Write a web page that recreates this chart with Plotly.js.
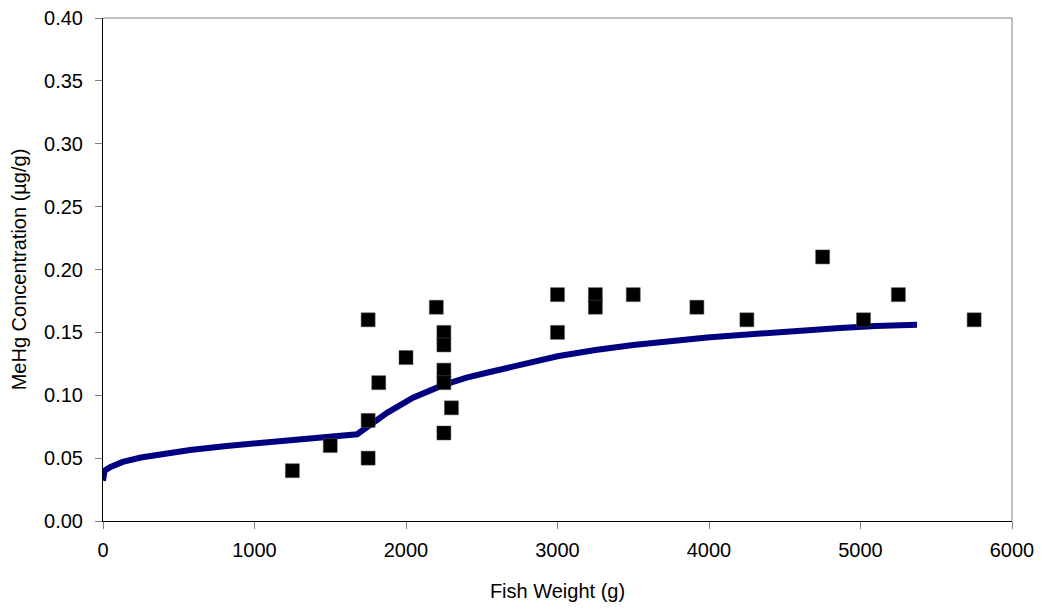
<!DOCTYPE html>
<html>
<head>
<meta charset="utf-8">
<script src="https://cdn.plot.ly/plotly-3.0.1.min.js"></script>
<style>html,body{margin:0;padding:0;background:#fff;}#chart{width:1042px;height:609px;}</style>
</head>
<body>
<div id="chart"></div>
<script>
// Observed fish data
var obsWeight = [1250, 1500, 1750, 1750, 1750, 1820, 2000, 2200, 2250, 2250, 2250, 2250, 2250, 2300,
                 3000, 3000, 3250, 3250, 3500, 3920, 4250, 4750, 5020, 5250, 5750];
var obsConc   = [0.04, 0.06, 0.05, 0.08, 0.16, 0.11, 0.13, 0.17, 0.15, 0.14, 0.12, 0.11, 0.07, 0.09,
                 0.18, 0.15, 0.18, 0.17, 0.18, 0.17, 0.16, 0.21, 0.16, 0.18, 0.16];
// Model curve
var modelWeight = [0, 1, 10, 50, 130, 250, 400, 575, 800, 1000, 1200, 1500, 1677, 1875, 2046,
                   2244, 2400, 2554, 2818, 3000, 3250, 3500, 3987, 4400, 4865, 5100, 5373];
var modelConc   = [0.032, 0.037, 0.040, 0.043, 0.047, 0.0505, 0.0535, 0.0565, 0.0595, 0.0615, 0.0635, 0.0665, 0.069, 0.086, 0.098,
                   0.108, 0.114, 0.1185, 0.1264, 0.131, 0.136, 0.140, 0.146, 0.150, 0.1535, 0.155, 0.156];
var xTicks = [0, 1000, 2000, 3000, 4000, 5000, 6000];
var yTicks = [0, 0.05, 0.10, 0.15, 0.20, 0.25, 0.30, 0.35, 0.40];

var font = 'Liberation Sans, Arial, sans-serif';
var traces = [
  {x: modelWeight, y: modelConc, mode: 'lines', type: 'scatter',
   line: {color: '#000080', width: 6}, hoverinfo: 'skip', showlegend: false, cliponaxis: false},
  {x: obsWeight, y: obsConc, mode: 'markers', type: 'scatter',
   marker: {symbol: 'square', size: 14, color: '#000000', line: {color: '#555555', width: 0.5}},
   showlegend: false, cliponaxis: false}
];
var layout = {
  width: 1042, height: 609,
  margin: {l: 103, r: 30, t: 18, b: 88},
  paper_bgcolor: '#ffffff', plot_bgcolor: '#ffffff',
  font: {family: font, size: 20, color: '#000'},
  xaxis: {range: [0, 6000], tickvals: xTicks, ticktext: xTicks.map(String),
          showgrid: false, zeroline: false, showline: true, linecolor: '#000', linewidth: 1,
          ticks: 'outside', ticklen: 7, tickcolor: '#808080', tickfont: {size: 20},
          ticklabelstandoff: 4,
          title: {text: 'Fish Weight (g)', font: {size: 20}, standoff: 23}},
  yaxis: {range: [0, 0.40], tickvals: yTicks, ticktext: yTicks.map(function(v){return v.toFixed(2);}),
          showgrid: false, zeroline: false, showline: true, linecolor: '#000', linewidth: 1,
          ticks: 'outside', ticklen: 7, tickcolor: '#808080', tickfont: {size: 20},
          ticklabelstandoff: 8,
          title: {text: 'MeHg Concentration (µg/g)', font: {size: 20}, standoff: 12}},
  shapes: [
    {type: 'line', xref: 'paper', yref: 'paper', x0: 0, x1: 1, y0: 1, y1: 1, line: {color: '#808080', width: 1}},
    {type: 'line', xref: 'paper', yref: 'paper', x0: 1, x1: 1, y0: 0, y1: 1, line: {color: '#808080', width: 1}}
  ]
};
Plotly.newPlot('chart', traces, layout, {displayModeBar: false, staticPlot: true});
</script>
</body>
</html>
